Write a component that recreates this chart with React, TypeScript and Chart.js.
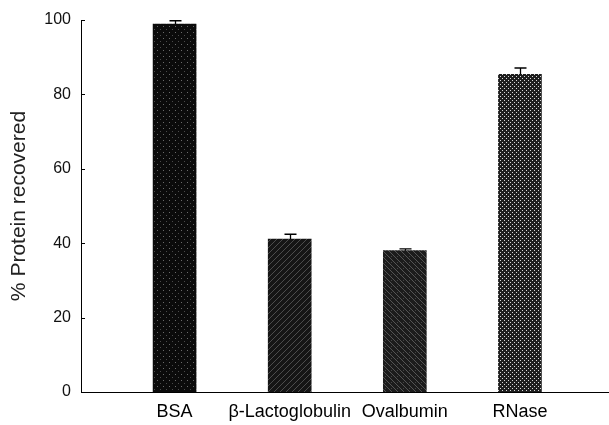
import React, { useEffect, useRef } from "react";
import { Chart, registerables } from "chart.js";

Chart.register(...registerables);

const categories = ["BSA", "β-Lactoglobulin", "Ovalbumin", "RNase"];
const positions = [1, 2, 3, 4];
const recovered = [98.9, 41.1, 38.0, 85.4];
const errors = [0.9, 1.3, 0.5, 1.7];
const yTicks = [0, 20, 40, 60, 80, 100];
const yTitle = "% Protein recovered";

const FONT = "'Liberation Sans', Arial, sans-serif";

function makePattern(kind: string): CanvasPattern | string {
  const c = document.createElement("canvas");
  const size = kind === "rnase" ? 4 : 6;
  c.width = size;
  c.height = size;
  const g = c.getContext("2d");
  if (!g) return "#111";
  const px = (x: number, y: number, col: string) => {
    g.fillStyle = col;
    g.fillRect(x, y, 1, 1);
  };
  if (kind === "bsa") {
    g.fillStyle = "#0b0b0b";
    g.fillRect(0, 0, size, size);
    px(1, 2, "#6a6a6a");
    px(4, 5, "#4a4a4a");
  } else if (kind === "blac") {
    g.fillStyle = "#151515";
    g.fillRect(0, 0, size, size);
    for (let i = 0; i < size; i++) px(i, size - 1 - i, "#4c4c4c");
  } else if (kind === "oval") {
    g.fillStyle = "#1c1c1c";
    g.fillRect(0, 0, size, size);
    for (let i = 0; i < size; i++) {
      px(i, i, "#555");
    }
    px(1, 4, "#444");
  } else {
    g.fillStyle = "#1e1e1e";
    g.fillRect(0, 0, size, size);
    px(0, 0, "#d8d8d8");
    px(2, 2, "#d8d8d8");
  }
  const p = g.createPattern(c, "repeat");
  return p || "#111";
}

const errorBarPlugin = {
  id: "errorBars",
  afterDatasetsDraw(chart: any) {
    const ctx = chart.ctx;
    const meta = chart.getDatasetMeta(0);
    const ys = chart.scales.y;
    ctx.save();
    ctx.strokeStyle = "#000";
    ctx.lineWidth = 1.3;
    meta.data.forEach((el: any, i: number) => {
      const x = Math.round(el.x) + 0.5;
      const yTop = ys.getPixelForValue(recovered[i]);
      const yErr = ys.getPixelForValue(recovered[i] + errors[i]);
      ctx.beginPath();
      ctx.moveTo(x, yTop);
      ctx.lineTo(x, yErr);
      ctx.moveTo(x - 6, yErr);
      ctx.lineTo(x + 6, yErr);
      ctx.stroke();
    });
    ctx.restore();
  },
};

const innerTicksPlugin = {
  id: "innerTicks",
  afterDraw(chart: any) {
    const ctx = chart.ctx;
    const ys = chart.scales.y;
    const left = chart.chartArea.left;
    ctx.save();
    ctx.strokeStyle = "#000";
    ctx.lineWidth = 1;
    yTicks.forEach((v) => {
      const y = Math.round(ys.getPixelForValue(v)) + 0.5;
      ctx.beginPath();
      ctx.moveTo(left, y);
      ctx.lineTo(left + 4, y);
      ctx.stroke();
    });
    ctx.restore();
  },
};

export default function App() {
  const ref = useRef<HTMLCanvasElement | null>(null);

  useEffect(() => {
    document.body.style.margin = "0";
    const canvas = ref.current;
    if (!canvas) return;
    const patterns = [
      makePattern("bsa"),
      makePattern("blac"),
      makePattern("oval"),
      makePattern("rnase"),
    ];
    const chart = new Chart(canvas, {
      type: "bar",
      data: {
        datasets: [
          {
            data: positions.map((p, i) => ({ x: p, y: recovered[i] })),
            backgroundColor: patterns as any,
            borderWidth: 0,
            barThickness: 43,
          },
        ],
      },
      options: {
        animation: false,
        responsive: false,
        events: [],
        layout: { padding: { top: 20, right: 1, left: 0, bottom: 0 } },
        plugins: {
          legend: { display: false },
          tooltip: { enabled: false },
        },
        scales: {
          x: {
            type: "linear",
            min: 0.187,
            max: 4.765,
            offset: false,
            grid: { display: false, drawTicks: false, offset: false },
            border: { display: true, color: "#000", width: 1 },
            afterBuildTicks: (scale: any) => {
              scale.ticks = positions.map((v) => ({ value: v }));
            },
            afterFit: (scale: any) => {
              scale.height = 33;
            },
            ticks: {
              autoSkip: false,
              maxRotation: 0,
              padding: 9,
              color: "#000",
              font: { family: FONT, size: 18 },
              callback: (v: any) => {
                const idx = positions.indexOf(Number(v));
                return idx >= 0 ? categories[idx] : "";
              },
            },
          },
          y: {
            min: 0,
            max: 100,
            grid: { display: false, drawTicks: false },
            border: { display: true, color: "#000", width: 1 },
            afterBuildTicks: (scale: any) => {
              scale.ticks = yTicks.map((v) => ({ value: v }));
            },
            afterFit: (scale: any) => {
              scale.width = 81;
            },
            ticks: {
              padding: 10,
              color: "#111",
              font: { family: FONT, size: 16 },
            },
            title: {
              display: true,
              text: yTitle,
              color: "#222",
              font: { family: FONT, size: 21 },
              padding: { top: 7, bottom: 0 },
            },
          },
        },
      },
      plugins: [errorBarPlugin, innerTicksPlugin],
    } as any);
    return () => chart.destroy();
  }, []);

  return (
    <div style={{ width: 609, height: 425, background: "#fff" }}>
      <canvas ref={ref} width={609} height={425} style={{ display: "block" }} />
    </div>
  );
}
